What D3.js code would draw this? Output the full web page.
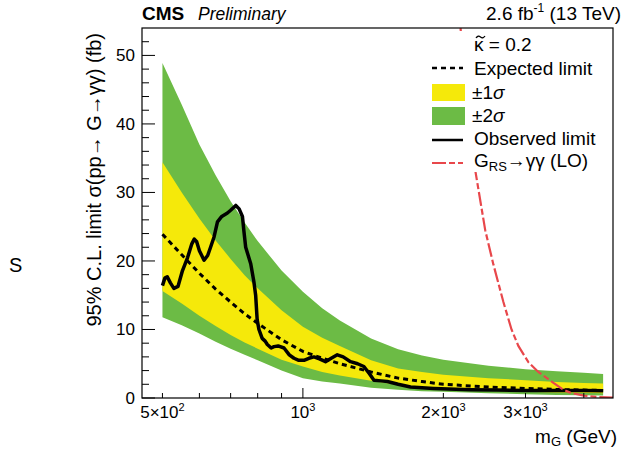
<!DOCTYPE html>
<html><head><meta charset="utf-8">
<script src="https://cdn.jsdelivr.net/npm/d3@7"></script>
<style>body{margin:0;background:#fff}svg{display:block;font-family:"Liberation Sans",Arial,Helvetica,sans-serif}</style>
</head><body>
<script>
// ---- data ----
const massGrid = [500,550,600,650,700,750,800,900,1000,1100,1200,1400,1600,1800,2000,2500,3000,3500,4000,4400];
const expected = [23.9,20.9,18.2,15.9,14.0,12.3,10.9,8.5,6.8,5.8,5.0,3.8,2.9,2.4,2.0,1.6,1.4,1.25,1.15,1.1];
const plus2 =    [48.9,42.8,37.0,32.5,28.7,25.6,22.9,18.6,15.5,13.1,11.3,8.7,7.1,6.2,5.6,4.7,4.2,3.9,3.7,3.5];
const plus1 =    [34.4,30.0,26.2,23.0,20.3,17.9,16.0,12.8,10.4,8.8,7.6,5.5,4.3,3.8,3.4,2.9,2.6,2.35,2.2,2.1];
const minus1 =   [15.6,13.8,12.0,10.5,9.2,8.1,7.2,5.6,4.6,3.8,3.3,2.5,1.9,1.55,1.3,1.05,0.9,0.8,0.75,0.7];
const minus2 =   [11.8,10.6,9.4,8.2,7.2,6.3,5.5,4.0,2.9,2.4,2.1,1.5,1.2,1.0,0.9,0.7,0.55,0.45,0.4,0.35];
const obsMass = [500,506,512,520,529,540,552,566,578,585,592,600,614,625,634,645,656,670,689,700,718,730,742,747,754,773,785,792,798,805,818,830,839,855,867,885,911,935,957,980,1005,1030,1056,1085,1118,1150,1185,1220,1265,1310,1351,1390,1420,1470,1517,1600,1701,1800,1908,2050,2288,2600,3000,3500,4000,4400];
const observed = [16.4,17.5,17.7,16.8,16.0,16.3,18.6,20.5,22.5,23.2,22.8,21.5,20.1,20.8,22.0,23.5,25.7,26.5,27.0,27.4,28.1,27.6,26.5,24.5,22.0,19.6,17.0,15.0,11.4,10.0,8.7,8.3,7.8,7.3,7.5,7.6,7.3,6.3,5.8,5.5,5.5,5.8,6.0,5.7,5.3,5.8,6.3,6.0,5.3,5.0,4.6,3.5,2.6,2.5,2.4,2.0,1.6,1.5,1.4,1.3,1.2,1.15,1.1,1.1,1.1,1.05];
const theoryMass = [2100,2177,2250,2344,2459,2560,2690,2800,2896,3045,3196,3444,3600,3748,4000,4300,4700];
const theoryXsec = [64,54,43,33,24.5,19.5,14,10,7.6,5.2,3.8,2.2,1.3,0.75,0.35,0.15,0.05];
const xTickVals = [500,1000,2000,3000];
const xTickMant = ["5×10","10","2×10","3×10"];
const xTickExp = ["2","3","3","3"];
const xMinor = [500,600,700,800,900,2000,3000,4000];
const xMajor = [1000];
const yMajor = [0,10,20,30,40,50];
const yMinor = [2,4,6,8,12,14,16,18,22,24,26,28,32,34,36,38,42,44,46,48,52];

const W=622,H=452;
const svg=d3.select("body").append("svg").attr("width",W).attr("height",H);
const L=142,R=613,T=28,B=398;
const x=d3.scaleLog().domain([452,4620]).range([L,R]);
const y=d3.scaleLinear().domain([0,54]).range([B,T]);

svg.append("defs").append("clipPath").attr("id","fr").append("rect").attr("x",L).attr("y",T).attr("width",R-L).attr("height",B-T);
const g=svg.append("g").attr("clip-path","url(#fr)");
const idx=d3.range(massGrid.length);
const band=(lo,hi)=>d3.area().x(i=>x(massGrid[i])).y0(i=>y(lo[i])).y1(i=>y(hi[i]));
g.append("path").attr("d",band(minus2,plus2)(idx)).attr("fill","#6cbb45");
g.append("path").attr("d",band(minus1,plus1)(idx)).attr("fill","#f5e90a");
g.append("path").attr("d",d3.line().x(i=>x(massGrid[i])).y(i=>y(expected[i]))(idx))
 .attr("fill","none").attr("stroke","#000").attr("stroke-width",3).attr("stroke-dasharray","5,4");
g.append("path").attr("d",d3.line().x((m,i)=>x(m)).y((m,i)=>y(observed[i]))(obsMass))
 .attr("fill","none").attr("stroke","#000").attr("stroke-width",3.5).attr("stroke-linejoin","round");
g.append("path").attr("d",d3.line().x((m,i)=>x(m)).y((m,i)=>y(theoryXsec[i]))(theoryMass))
 .attr("fill","none").attr("stroke","#e8474b").attr("stroke-width",2.2).attr("stroke-dasharray","14,3,6,3");

// legend box (white, hides curve)
const lg=svg.append("g");
lg.append("rect").attr("x",418).attr("y",31).attr("width",R-418-1).attr("height",141).attr("fill","#fff");
const fs=19;
const lx=432,tx=474;
lg.append("text").attr("x",tx).attr("y",51).attr("font-size",fs).text("κ = 0.2");
// tilde accent over kappa
lg.append("path").attr("d","M476,38 q2,-3 4.5,-1 t4.5,-1").attr("fill","none").attr("stroke","#000").attr("stroke-width",1.3);
lg.append("line").attr("x1",lx).attr("x2",lx+31).attr("y1",68).attr("y2",68).attr("stroke","#000").attr("stroke-width",2.5).attr("stroke-dasharray","5,4");
lg.append("text").attr("x",tx).attr("y",75).attr("font-size",fs).text("Expected limit");
lg.append("rect").attr("x",lx).attr("y",84).attr("width",33).attr("height",17).attr("fill","#f5e90a");
let t1=lg.append("text").attr("x",tx-2).attr("y",99).attr("font-size",fs);
t1.append("tspan").text("±1");t1.append("tspan").attr("font-style","italic").text("σ");
lg.append("rect").attr("x",lx).attr("y",107).attr("width",33).attr("height",18).attr("fill","#6cbb45");
let t2=lg.append("text").attr("x",tx-2).attr("y",122).attr("font-size",fs);
t2.append("tspan").text("±2");t2.append("tspan").attr("font-style","italic").text("σ");
lg.append("line").attr("x1",lx).attr("x2",lx+31).attr("y1",140).attr("y2",140).attr("stroke","#000").attr("stroke-width",2.5);
lg.append("text").attr("x",tx).attr("y",145).attr("font-size",fs).text("Observed limit");
lg.append("line").attr("x1",lx).attr("x2",lx+31).attr("y1",163).attr("y2",163).attr("stroke","#e8474b").attr("stroke-width",2).attr("stroke-dasharray","14,3,6,3");
let t3=lg.append("text").attr("x",tx).attr("y",167).attr("font-size",fs);
t3.append("tspan").text("G");t3.append("tspan").attr("font-size",13).attr("dy",4).text("RS");
t3.append("tspan").attr("dy",-4).text("→γγ (LO)");

// frame & ticks
const ax=svg.append("g").attr("stroke","#000");
ax.append("rect").attr("x",L).attr("y",T).attr("width",R-L).attr("height",B-T).attr("fill","none").attr("stroke-width",1.2);
xMinor.forEach(v=>ax.append("line").attr("x1",x(v)).attr("x2",x(v)).attr("y1",B).attr("y2",B-5).attr("stroke-width",1));
xMajor.forEach(v=>ax.append("line").attr("x1",x(v)).attr("x2",x(v)).attr("y1",B).attr("y2",B-10).attr("stroke-width",1));
yMajor.forEach(v=>ax.append("line").attr("x1",L).attr("x2",L+13).attr("y1",y(v)).attr("y2",y(v)).attr("stroke-width",1));
yMinor.forEach(v=>ax.append("line").attr("x1",L).attr("x2",L+7).attr("y1",y(v)).attr("y2",y(v)).attr("stroke-width",1));

xTickVals.forEach((v,i)=>{
  const t=svg.append("text").attr("x",x(v)).attr("y",418).attr("font-size",17).attr("text-anchor","middle");
  t.append("tspan").text(xTickMant[i]);
  t.append("tspan").attr("font-size",11).attr("dy",-7).text(xTickExp[i]);
});
yMajor.forEach(v=>svg.append("text").attr("x",135).attr("y",y(v)+6).attr("font-size",17).attr("text-anchor","end").text(v));

// titles
const xt=svg.append("text").attr("x",617).attr("y",443).attr("font-size",19).attr("text-anchor","end");
xt.append("tspan").text("m");xt.append("tspan").attr("font-size",13).attr("dy",3).text("G");
xt.append("tspan").attr("dy",-3).text(" (GeV)");
svg.append("text").attr("transform","translate(101,33) rotate(-90)").attr("font-size",20).attr("text-anchor","end")
 .text("95% C.L. limit σ(pp→ G→γγ) (fb)");
svg.append("text").attr("x",9).attr("y",272).attr("font-size",20).text("S");
svg.append("text").attr("x",142).attr("y",20).attr("font-size",19).attr("font-weight","bold").text("CMS");
svg.append("text").attr("x",198).attr("y",20).attr("font-size",17.5).attr("font-style","italic").text("Preliminary");
const lu=svg.append("text").attr("x",621).attr("y",20).attr("font-size",19).attr("text-anchor","end");
lu.append("tspan").text("2.6 fb");lu.append("tspan").attr("font-size",12).attr("dy",-8).text("-1");
lu.append("tspan").attr("dy",8).text(" (13 TeV)");
</script>
</body></html>
